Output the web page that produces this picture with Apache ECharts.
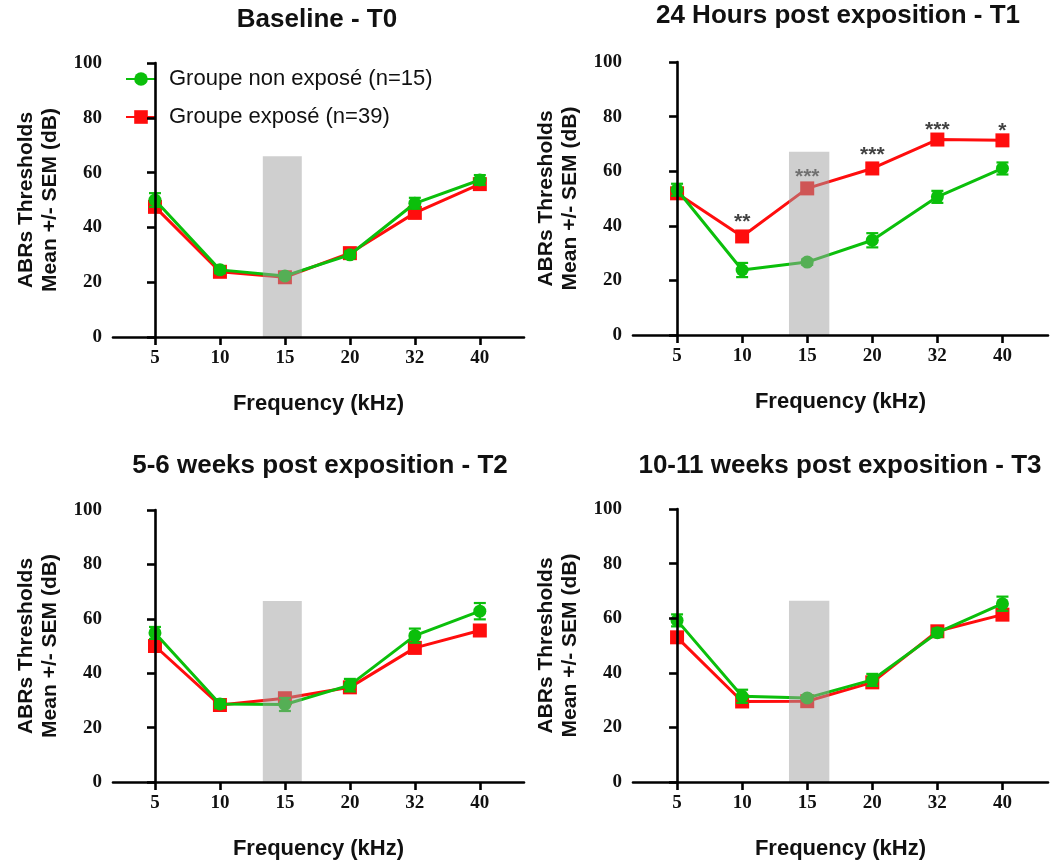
<!DOCTYPE html>
<html>
<head>
<meta charset="utf-8">
<script src="https://cdn.jsdelivr.net/npm/echarts@6/dist/echarts.min.js"></script>
<style>html,body{margin:0;padding:0;background:#fff}#c{width:1050px;height:861px}</style>
</head>
<body>
<div id="c"></div>
<script>
// ---- data ----
const freqLabels = ['5', '10', '15', '20', '32', '40'];
const panelTitles = ['Baseline - T0', '24 Hours post exposition - T1', '5-6 weeks post exposition - T2', '10-11 weeks post exposition - T3'];
const nameNonExp = 'Groupe non exposé (n=15)';
const nameExp = 'Groupe exposé (n=39)';

const nonExpT0 = [50.0, 24.5, 22.3, 30.0, 48.8, 57.3];
const expT0 = [47.5, 23.8, 21.8, 30.6, 45.3, 55.8];
const nonExpSemT0 = [2.5, 1.2, 1.0, 1.2, 2.0, 1.8];
const expSemT0 = [1.0, 0.8, 0.8, 0.8, 1.0, 1.0];

const nonExpT1 = [53.2, 23.8, 26.7, 34.7, 50.6, 61.0];
const expT1 = [51.9, 36.1, 53.7, 61.0, 71.6, 71.3];
const nonExpSemT1 = [2.2, 2.6, 1.0, 2.6, 2.2, 2.2];
const expSemT1 = [1.2, 1.2, 1.5, 2.0, 1.0, 1.2];

const nonExpT2 = [54.8, 28.7, 28.5, 35.6, 53.8, 62.8];
const expT2 = [50.0, 28.3, 30.8, 34.8, 49.3, 55.7];
const nonExpSemT2 = [2.2, 1.5, 2.4, 2.3, 2.6, 3.0];
const expSemT2 = [1.2, 1.0, 1.2, 1.2, 1.2, 1.5];

const nonExpT3 = [59.2, 31.4, 30.8, 37.4, 54.7, 65.3];
const expT3 = [53.0, 29.5, 29.6, 36.5, 55.2, 61.3];
const nonExpSemT3 = [2.2, 2.4, 1.0, 2.2, 1.5, 2.6];
const expSemT3 = [1.0, 1.0, 1.0, 1.2, 1.2, 1.2];

// significance marks (T1): frequency index, height (dB), text
const starIdxT1 = [1, 2, 3, 4, 5];
const starYT1 = [43.3, 59.8, 67.8, 76.9, 76.3];
const starTextT1 = ['**', '***', '***', '***', '*'];

// exposure band (shaded), in frequency-index units and dB
const shadeStart = [1.66, 1.72, 1.66, 1.72];
const shadeEnd = [2.26, 2.34, 2.26, 2.34];
const shadeTop = [66.0, 67.1, 66.5, 66.4];

const yTicks = { min: 0, max: 100, interval: 20 };

// ---- layout ----
const GREEN = '#0bbf0b';
const RED = '#ff0d0d';
const grids = [
  { left: 113, right: 526, top: 63, bottom: 524 },
  { left: 633, right: 2, top: 62, bottom: 526 },
  { left: 113, right: 526, top: 510, bottom: 79 },
  { left: 633, right: 2, top: 509, bottom: 79 }
];
const xRange = [[-0.646, 5.68], [-0.677, 5.70], [-0.646, 5.68], [-0.677, 5.70]];
const titlePos = [[317, 7], [838, 3], [320, 453], [840, 453]];

const panels = [
  [nonExpT0, expT0, nonExpSemT0, expSemT0],
  [nonExpT1, expT1, nonExpSemT1, expSemT1],
  [nonExpT2, expT2, nonExpSemT2, expSemT2],
  [nonExpT3, expT3, nonExpSemT3, expSemT3]
];

const idx = freqLabels.map((_, i) => i);
const tickFont = { fontFamily: 'Liberation Serif', fontWeight: 'bold', fontSize: 19, color: '#111' };

function errRender(color) {
  return function (params, api) {
    const x = api.value(0);
    const lo = api.coord([x, api.value(1)]);
    const hi = api.coord([x, api.value(2)]);
    const w = 6;
    const st = { stroke: color, lineWidth: 2.2 };
    return {
      type: 'group',
      children: [
        { type: 'line', shape: { x1: lo[0], y1: lo[1], x2: hi[0], y2: hi[1] }, style: st },
        { type: 'line', shape: { x1: lo[0] - w, y1: lo[1], x2: lo[0] + w, y2: lo[1] }, style: st },
        { type: 'line', shape: { x1: hi[0] - w, y1: hi[1], x2: hi[0] + w, y2: hi[1] }, style: st }
      ]
    };
  };
}

const xAxes = [], yAxes = [], series = [], titles = [];
grids.forEach((g, p) => {
  titles.push({
    text: panelTitles[p], left: titlePos[p][0], top: titlePos[p][1], textAlign: 'center', padding: 0,
    textStyle: { fontFamily: 'Liberation Sans', fontWeight: 'bold', fontSize: 26, color: '#111' }
  });
  xAxes.push({
    gridIndex: p, type: 'value', min: xRange[p][0], max: xRange[p][1], z: 10,
    name: 'Frequency (kHz)', nameLocation: 'middle', nameGap: 56,
    nameTextStyle: { fontFamily: 'Liberation Sans', fontWeight: 'bold', fontSize: 22, color: '#111' },
    axisLine: { show: true, onZero: false, lineStyle: { color: '#000', width: 2.6 } },
    axisTick: { show: true, customValues: idx, length: 8, lineStyle: { color: '#000', width: 2.6 } },
    axisLabel: { customValues: idx, margin: 12, formatter: v => freqLabels[Math.round(v)], ...tickFont },
    splitLine: { show: false }
  });
  yAxes.push({
    gridIndex: p, type: 'value', min: yTicks.min, max: yTicks.max, interval: yTicks.interval, z: 10,
    name: 'ABRs Thresholds\nMean +/- SEM (dB)', nameLocation: 'middle', nameGap: 51, nameRotate: 90,
    nameTextStyle: { fontFamily: 'Liberation Sans', fontWeight: 'bold', fontSize: 21, color: '#111', lineHeight: 24 },
    axisLine: { show: true, lineStyle: { color: '#000', width: 2.6 } },
    axisTick: { show: true, length: 8, lineStyle: { color: '#000', width: 2.6 } },
    axisLabel: { margin: 11, ...tickFont },
    splitLine: { show: false }
  });
  const [ne, ex, neS, exS] = panels[p];
  // exposed group (red) first so the green one lies on top
  series.push({
    type: 'custom', xAxisIndex: p, yAxisIndex: p, z: 3, silent: true,
    renderItem: errRender(RED),
    data: ex.map((v, i) => [i, v - exS[i], v + exS[i]])
  });
  series.push({
    name: nameExp, type: 'line', xAxisIndex: p, yAxisIndex: p, z: 3,
    data: ex.map((v, i) => [i, v]),
    symbol: 'rect', symbolSize: 14, color: RED,
    lineStyle: { width: 3, color: RED }, itemStyle: { color: RED }
  });
  series.push({
    type: 'custom', xAxisIndex: p, yAxisIndex: p, z: 4, silent: true,
    renderItem: errRender(GREEN),
    data: ne.map((v, i) => [i, v - neS[i], v + neS[i]])
  });
  series.push({
    name: nameNonExp, type: 'line', xAxisIndex: p, yAxisIndex: p, z: 4,
    data: ne.map((v, i) => [i, v]),
    symbol: 'circle', symbolSize: 13, color: GREEN,
    lineStyle: { width: 3, color: GREEN }, itemStyle: { color: GREEN }
  });
  if (p === 1) {
    series.push({
      type: 'scatter', xAxisIndex: p, yAxisIndex: p, z: 4, silent: true,
      symbolSize: 0,
      data: starIdxT1.map((v, i) => [v, starYT1[i], starTextT1[i]]),
      label: {
        show: true, position: 'inside', offset: [0, 5], formatter: d => d.value[2],
        fontFamily: 'Liberation Sans', fontWeight: 'bold', fontSize: 21, color: '#111'
      }
    });
  }
  // shaded exposure band drawn over the curves
  series.push({
    type: 'custom', xAxisIndex: p, yAxisIndex: p, z: 6, silent: true,
    renderItem: function (params, api) {
      const a = api.coord([api.value(0), api.value(2)]);
      const b = api.coord([api.value(1), 0]);
      return { type: 'rect', shape: { x: a[0], y: a[1], width: b[0] - a[0], height: b[1] - a[1] },
        style: { fill: 'rgba(160,160,160,0.5)' } };
    },
    data: [[shadeStart[p], shadeEnd[p], shadeTop[p]]]
  });
});

const chart = echarts.init(document.getElementById('c'), null, { renderer: 'canvas' });
chart.setOption({
  animation: false,
  backgroundColor: '#fff',
  title: titles,
  grid: grids,
  xAxis: xAxes,
  yAxis: yAxes,
  legend: {
    data: [nameNonExp, nameExp], orient: 'vertical', left: 120, top: 63,
    itemWidth: 30, itemHeight: 17, itemGap: 16, selectedMode: false,
    textStyle: { fontFamily: 'Liberation Sans', fontSize: 22, color: '#111', padding: [0, 0, 0, 8] }
  },
  series: series
});
</script>
</body>
</html>
